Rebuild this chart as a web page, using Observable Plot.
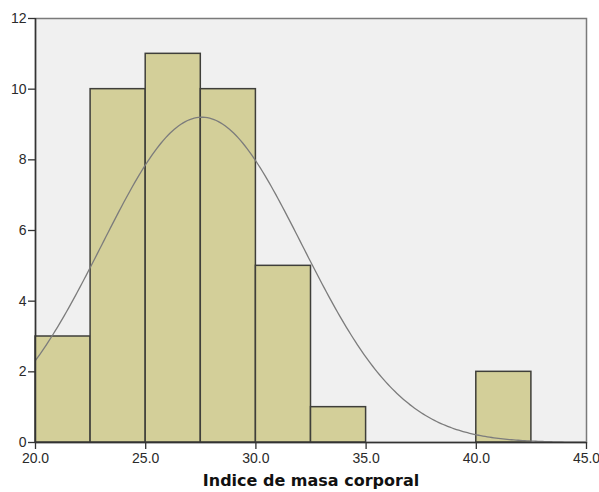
<!DOCTYPE html>
<html>
<head>
<meta charset="utf-8">
<script src="https://cdn.jsdelivr.net/npm/d3@7"></script>
<script src="https://cdn.jsdelivr.net/npm/@observablehq/plot@0.6"></script>
<style>
  html, body { margin: 0; padding: 0; background: #ffffff; }
  #chart svg { display: block; }
</style>
</head>
<body>
<div id="chart"></div>
<script>
// Histogram bins of body-mass index (lower edge, upper edge, count)
const binStarts = [20.0, 22.5, 25.0, 27.5, 30.0, 32.5, 40.0];
const binEnds   = [22.5, 25.0, 27.5, 30.0, 32.5, 35.0, 42.5];
const counts    = [3, 10, 11, 10, 5, 1, 2];

// Fitted normal curve parameters
const mean = 27.55;
const sd = 4.55;
const binWidth = 2.5;

const xTicks = [20, 25, 30, 35, 40, 45];
const yTicks = [0, 2, 4, 6, 8, 10, 12];
const xTitle = "Indice de masa corporal";

const bins = binStarts.map((x1, i) => ({x1, x2: binEnds[i], count: counts[i]}));
const n = d3.sum(counts);

// Normal density scaled to the histogram's counts
const curve = d3.range(20, 45.001, 0.1).map(x => ({
  x,
  y: n * binWidth / (sd * Math.sqrt(2 * Math.PI)) * Math.exp(-0.5 * ((x - mean) / sd) ** 2)
}));

const chart = Plot.plot({
  width: 599,
  height: 492,
  marginLeft: 35,
  marginRight: 13,
  marginTop: 18,
  marginBottom: 50,
  style: {fontFamily: "Liberation Sans, Arial, sans-serif", fontSize: "14px", color: "#2a2a2a"},
  x: {domain: [20, 45]},
  y: {domain: [0, 12]},
  marks: [
    Plot.frame({fill: "#f0f0f0", stroke: "#7a7a7a", strokeWidth: 1.5}),
    Plot.rectY(bins, {x1: "x1", x2: "x2", y: "count", fill: "#d3cf99", stroke: "#3f3f3a", strokeWidth: 1.5}),
    Plot.line(curve, {x: "x", y: "y", stroke: "#7c7c7c", strokeWidth: 1.3, clip: true}),
    Plot.ruleX([20], {stroke: "#333", strokeWidth: 1.5}),
    Plot.ruleY([0], {stroke: "#333", strokeWidth: 1.5}),
    Plot.axisX({ticks: xTicks, tickFormat: d3.format(".1f"), tickSize: 7, tickPadding: 4, fontSize: 14, label: null, stroke: "#333", strokeWidth: 1.3}),
    Plot.axisY({ticks: yTicks, tickFormat: d => d, tickSize: 7, tickPadding: 2, fontSize: 14, label: null, stroke: "#333", strokeWidth: 1.3}),
    Plot.text([xTitle], {frameAnchor: "bottom", lineAnchor: "middle", dy: 38, fontFamily: "DejaVu Sans, sans-serif", fontWeight: "bold", fontSize: 16, fill: "#111"})
  ]
});

document.getElementById("chart").append(chart);
</script>
</body>
</html>
